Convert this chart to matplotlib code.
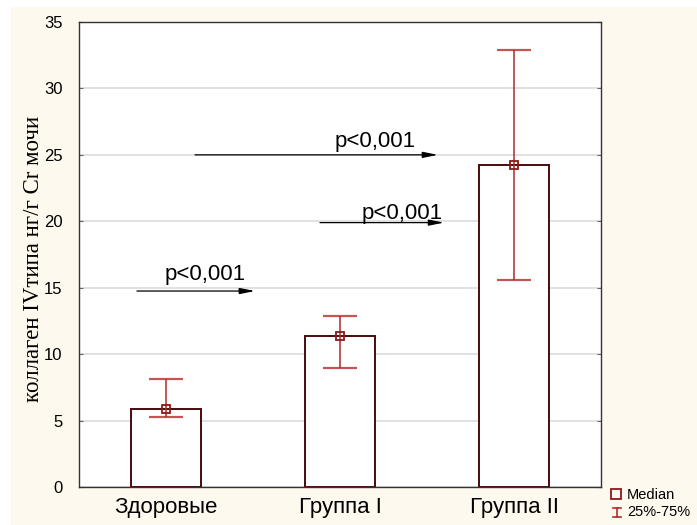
import matplotlib
matplotlib.use("Agg")
import matplotlib.pyplot as plt
from matplotlib.patches import Rectangle
from matplotlib.lines import Line2D

categories = ["Здоровые", "Группа I", "Группа II"]
medians = [5.9, 11.4, 24.2]
q25 = [5.3, 8.95, 15.55]
q75 = [8.1, 12.9, 32.9]
yticks = [0, 5, 10, 15, 20, 25, 30, 35]
p_labels = ["p<0,001", "p<0,001", "p<0,001"]
# comparisons: (x_start, x_end, y) in category units
arrows = [(0.833, 1.511, 14.75), (1.167, 2.563, 25.0), (1.885, 2.598, 19.9)]
p_text_pos = [(0.994, 15.55), (1.971, 25.6), (2.126, 20.15)]

W, H = 697, 525
fig = plt.figure(figsize=(W / 100, H / 100), dpi=100)
fig.patch.set_facecolor("white")
cream = "#fef9ef"
fig.patches.append(Rectangle((11 / W, 0), 1 - 11 / W, 1 - 7 / H, transform=fig.transFigure,
                             facecolor=cream, edgecolor="none", zorder=-10))

ax = fig.add_axes([79 / W, 1 - 487 / H, (601 - 79) / W, (487 - 22) / H])
ax.set_facecolor("white")

x = [1, 2, 3]
ax.bar(x, medians, width=0.4, facecolor="white", edgecolor="#4a0a0a", linewidth=1.4, zorder=2)
dark = "#8b1a1a"
wcol = "#b52b2b"
for xi, m, lo, hi in zip(x, medians, q25, q75):
    ax.vlines(xi, lo, hi, color=wcol, lw=1.4, alpha=0.8, zorder=3)
    ax.hlines([lo, hi], xi - 0.1, xi + 0.1, color=wcol, lw=1.6, alpha=0.8, zorder=3)
    ax.plot([xi], [m], marker="s", ms=6, mfc="none", mec=dark, mew=1.3, zorder=4)

for (x0, x1, yy) in arrows:
    ax.annotate("", xy=(x1, yy), xytext=(x0, yy),
                arrowprops=dict(arrowstyle="-|>,head_length=0.9,head_width=0.18",
                                lw=0.9, color="black", shrinkA=0, shrinkB=0), zorder=5)
for (tx, ty), lab in zip(p_text_pos, p_labels):
    ax.text(tx, ty, lab, fontsize=16, family="Liberation Sans", ha="left", va="baseline", zorder=6)

ax.set_xlim(0.5, 3.5)
ax.set_ylim(0, 35)
ax.set_yticks(yticks)
ax.set_yticklabels([str(t) for t in yticks], fontsize=12, family="Liberation Sans")
ax.set_xticks(x)
ax.set_xticklabels(categories, fontsize=16, family="Liberation Sans")
ax.tick_params(axis="x", direction="in", length=3, color="#666666", pad=7)
ax.tick_params(axis="y", direction="in", length=3, color="#666666", right=True, pad=12)
ax.yaxis.grid(True, color="#dcdcdc", lw=1.2, zorder=0)
ax.set_axisbelow(True)
for s in ax.spines.values():
    s.set_color("#333333")
    s.set_linewidth(1.0)

ax.set_ylabel("коллаген IVтипа нг/г Cr мочи", fontsize=16.5, family="Liberation Serif")
ax.yaxis.set_label_coords((44 - 79) / 522, 1 - (258.5 - 22) / 465)

# legend (manual)
fig.add_artist(Line2D([616 / W], [1 - 494 / H], marker="s", ms=7, mfc="none", mec=dark, mew=1.3,
                      transform=fig.transFigure))
fig.add_artist(Line2D([617 / W, 617 / W], [1 - 508 / H, 1 - 517 / H], color=wcol, lw=1.2,
                      transform=fig.transFigure))
fig.add_artist(Line2D([613 / W, 621 / W], [1 - 508 / H, 1 - 508 / H], color=wcol, lw=1.2,
                      transform=fig.transFigure))
fig.add_artist(Line2D([613 / W, 621 / W], [1 - 517 / H, 1 - 517 / H], color=wcol, lw=1.2,
                      transform=fig.transFigure))
fig.text(627 / W, 1 - 495 / H, "Median", fontsize=10.5, family="Liberation Sans", va="center")
fig.text(627 / W, 1 - 512 / H, "25%-75%", fontsize=10.5, family="Liberation Sans", va="center")

fig.savefig("out.png", dpi=100, facecolor=fig.get_facecolor())
